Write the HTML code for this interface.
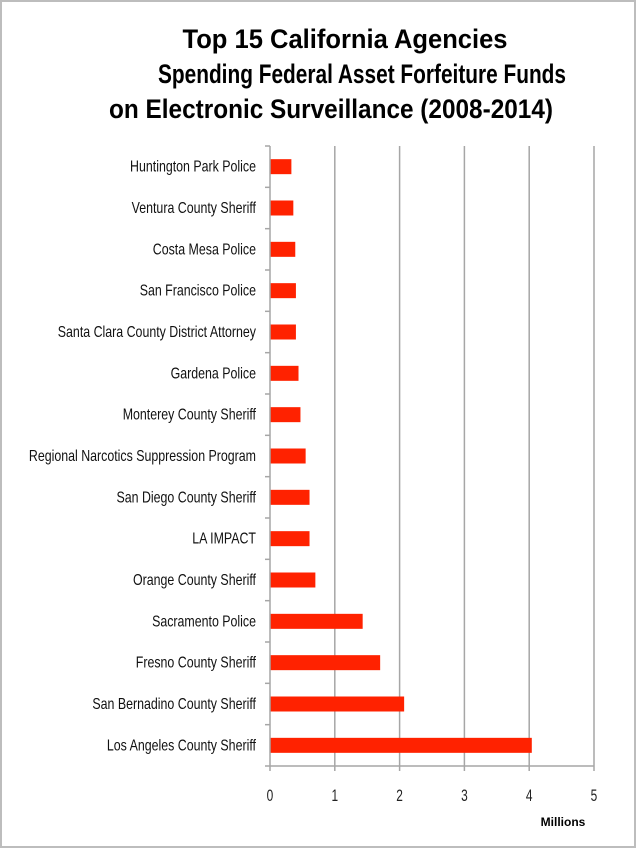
<!DOCTYPE html>
<html><head><meta charset="utf-8"><style>
html,body{margin:0;padding:0;background:#fff}
svg{display:block;font-family:"Liberation Sans",sans-serif}
</style></head><body>
<svg id="chart" width="636" height="848" viewBox="0 0 636 848">
<rect x="1" y="1" width="634" height="846" fill="#fff" stroke="#bdbdbd" stroke-width="2"/>
<g font-weight="bold" font-size="27" fill="#000" text-anchor="middle">
<text x="345" y="48" textLength="325" lengthAdjust="spacingAndGlyphs">Top 15 California Agencies</text>
<text x="362" y="83" textLength="408" lengthAdjust="spacingAndGlyphs">Spending Federal Asset Forfeiture Funds</text>
<text x="331" y="118" textLength="444" lengthAdjust="spacingAndGlyphs">on Electronic Surveillance (2008-2014)</text>
</g>
<g id="grid"></g><g id="bars"></g><g id="labels"></g><g id="axes"></g>
<text x="563" y="826" font-size="12" font-weight="bold" text-anchor="middle">Millions</text>
</svg>
<script>
const categories=["Huntington Park Police","Ventura County Sheriff","Costa Mesa Police","San Francisco Police","Santa Clara County District Attorney","Gardena Police","Monterey County Sheriff","Regional Narcotics Suppression Program","San Diego County Sheriff","LA IMPACT","Orange County Sheriff","Sacramento Police","Fresno County Sheriff","San Bernadino County Sheriff","Los Angeles County Sheriff"];
const values=[0.33,0.36,0.39,0.40,0.40,0.44,0.47,0.55,0.61,0.61,0.70,1.43,1.70,2.07,4.04];
const tickLabels=["0","1","2","3","4","5"];
const NS="http://www.w3.org/2000/svg";
const x0=270,x1=594,yTop=146,yBot=766,xMax=5;
const xs=v=>x0+(x1-x0)*v/xMax;
const band=(yBot-yTop)/categories.length;
const yc=i=>yTop+band*(i+0.5);
function mk(tag,attrs,parent){const e=document.createElementNS(NS,tag);for(const k in attrs)e.setAttribute(k,attrs[k]);document.getElementById(parent).appendChild(e);return e;}
tickLabels.forEach((t,i)=>{
 const v=+t,x=xs(v);
 if(v>0){const g=mk("line",{x1:x,x2:x,y1:yTop,y2:yBot+5,stroke:"#a6a6a6","stroke-width":1.5},"grid");
 
 }
 else{const tk=mk("line",{x1:x,x2:x,y1:yBot,y2:yBot+5,stroke:"#a6a6a6","stroke-width":1.5},"axes");
 
 }
 const tl=mk("text",{x:x,y:yBot+35,"font-size":17,"text-anchor":"middle",fill:"#222",transform:`translate(${x},0) scale(0.7,1) translate(${-x},0)`},"axes");
 tl.textContent=t;
 
 
});
const ax=mk("line",{x1:x0,x2:x0,y1:yTop,y2:yBot,stroke:"#a6a6a6","stroke-width":1.5},"axes");


const bx=mk("line",{x1:x0,x2:x1,y1:yBot,y2:yBot,stroke:"#a6a6a6","stroke-width":1.5},"axes");


for(let i=0;i<=categories.length;i++){const y=yTop+band*i;
 const t=mk("line",{x1:x0-5,x2:x0,y1:y,y2:y,stroke:"#a6a6a6","stroke-width":1.5},"axes");
 
 }
categories.forEach((c,i)=>{
 const b=mk("rect",{x:x0,y:yc(i)-7.5,width:xs(values[i])-x0,height:15,fill:"#ff2200"},"bars");
 
 
 const l=mk("text",{x:0,y:0,"font-size":15.5,"text-anchor":"end",fill:"#111",transform:`translate(256,${yc(i)+5}) scale(0.8,1)`},"labels");
 l.textContent=c;
 
 
});
</script>
</body></html>
